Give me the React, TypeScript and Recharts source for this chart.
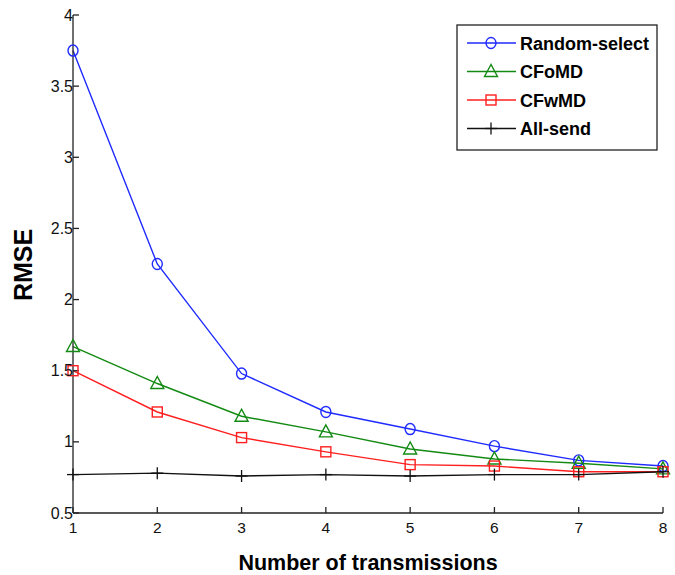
import { LineChart, Line, XAxis, YAxis } from 'recharts';

const transmissions = [1, 2, 3, 4, 5, 6, 7, 8];
const randomSelect = [3.75, 2.25, 1.48, 1.21, 1.09, 0.97, 0.87, 0.83];
const cfomd = [1.67, 1.41, 1.18, 1.07, 0.95, 0.88, 0.85, 0.81];
const cfwmd = [1.5, 1.21, 1.03, 0.93, 0.84, 0.83, 0.79, 0.79];
const allSend = [0.77, 0.78, 0.76, 0.77, 0.76, 0.77, 0.77, 0.79];
const yTicks = [0.5, 1, 1.5, 2, 2.5, 3, 3.5, 4];

const data = transmissions.map((n, i) => ({
  n,
  randomSelect: randomSelect[i],
  cfomd: cfomd[i],
  cfwmd: cfwmd[i],
  allSend: allSend[i],
}));

const FONT = '"Liberation Sans", Arial, Helvetica, sans-serif';

type MarkerProps = { cx?: number; cy?: number; stroke?: string };

const CircleMark = ({ cx = 0, cy = 0, stroke }: MarkerProps) => (
  <ellipse cx={cx} cy={cy} rx={5} ry={5.5} fill="none" stroke={stroke} strokeWidth={1.4} />
);

const TriangleMark = ({ cx = 0, cy = 0, stroke }: MarkerProps) => (
  <polygon
    points={`${cx},${cy - 7} ${cx - 6.5},${cy + 5} ${cx + 6.5},${cy + 5}`}
    fill="none"
    stroke={stroke}
    strokeWidth={1.4}
  />
);

const SquareMark = ({ cx = 0, cy = 0, stroke }: MarkerProps) => (
  <rect x={cx - 5} y={cy - 5} width={10} height={10} fill="none" stroke={stroke} strokeWidth={1.4} />
);

const PlusMark = ({ cx = 0, cy = 0, stroke }: MarkerProps) => (
  <g stroke={stroke} strokeWidth={1.3}>
    <line x1={cx - 6} y1={cy} x2={cx + 6} y2={cy} />
    <line x1={cx} y1={cy - 6} x2={cx} y2={cy + 6} />
  </g>
);

const series = [
  { key: 'randomSelect', name: 'Random-select', color: '#1f2bff', Mark: CircleMark },
  { key: 'cfomd', name: 'CFoMD', color: '#138a13', Mark: TriangleMark },
  { key: 'cfwmd', name: 'CFwMD', color: '#ff1f1f', Mark: SquareMark },
  { key: 'allSend', name: 'All-send', color: '#111111', Mark: PlusMark },
];

// legend drawn as its own svg layer over the plot's upper-right corner
const LegendBox = () => (
  <svg
    width={202}
    height={128}
    style={{ position: 'absolute', left: 456, top: 24, overflow: 'visible' }}
  >
    <rect x={1} y={1} width={200} height={125} fill="#fff" stroke="#222" strokeWidth={1.3} />
    {series.map((s, i) => {
      const y = 19 + i * 28.5;
      return (
        <g key={s.key}>
          <line x1={11} y1={y} x2={60} y2={y} stroke={s.color} strokeWidth={1.4} />
          <s.Mark cx={35} cy={y} stroke={s.color} />
          <text
            x={64}
            y={y + 6.5}
            style={{ fontSize: 18, fontWeight: 'bold', fill: '#000', fontFamily: FONT }}
          >
            {s.name}
          </text>
        </g>
      );
    })}
  </svg>
);

const XTick = ({ x, y, payload }: any) => (
  <text
    x={x}
    y={y + 24}
    textAnchor="middle"
    style={{ fontSize: 15.5, fill: '#111', fontFamily: FONT }}
  >
    {payload.value}
  </text>
);

const YTick = ({ x, y, payload }: any) => (
  <text
    x={x - 4}
    y={y + 5.5}
    textAnchor="end"
    style={{ fontSize: 16, fill: '#111', fontFamily: FONT }}
  >
    {payload.value}
  </text>
);

const axisLine = { stroke: '#222', strokeWidth: 1.3 };

export default function App() {
  return (
    <div style={{ position: 'absolute', left: 0, top: 0, width: 675, height: 575, background: '#fff' }}>
      <LineChart
        width={675}
        height={575}
        data={data}
        margin={{ top: 15, right: 12, bottom: 22, left: 13 }}
      >
        <XAxis
          dataKey="n"
          type="number"
          domain={[1, 8]}
          ticks={transmissions}
          interval={0}
          height={40}
          tickSize={-6}
          tick={<XTick />}
          axisLine={axisLine}
          tickLine={axisLine}
          label={{
            content: () => (
              <text
                x={368}
                y={570}
                textAnchor="middle"
                style={{ fontSize: 21.5, fontWeight: 'bold', fill: '#000', fontFamily: FONT }}
              >
                Number of transmissions
              </text>
            ),
          }}
        />
        <XAxis
          xAxisId="top"
          dataKey="n"
          type="number"
          orientation="top"
          domain={[1, 8]}
          ticks={transmissions}
          interval={0}
          height={0}
          tickSize={-6}
          tickFormatter={() => ''}
          axisLine={axisLine}
          tickLine={axisLine}
        />
        <YAxis
          type="number"
          domain={[0.5, 4]}
          ticks={yTicks}
          interval={0}
          width={60}
          tickSize={-6}
          tick={<YTick />}
          axisLine={axisLine}
          tickLine={axisLine}
          label={{
            content: () => (
              <text
                x={32}
                y={265}
                transform="rotate(-90 32 265)"
                textAnchor="middle"
                style={{ fontSize: 25, fontWeight: 'bold', fill: '#000', fontFamily: FONT }}
              >
                RMSE
              </text>
            ),
          }}
        />
        <YAxis
          yAxisId="right"
          orientation="right"
          type="number"
          domain={[0.5, 4]}
          ticks={yTicks}
          interval={0}
          width={0}
          tickSize={-6}
          tickFormatter={() => ''}
          axisLine={axisLine}
          tickLine={axisLine}
        />
        {series.map((s) => (
          <Line
            key={s.key}
            dataKey={s.key}
            name={s.name}
            type="linear"
            stroke={s.color}
            strokeWidth={1.4}
            dot={(p: any) => <s.Mark key={`${s.key}-${p.index}`} cx={p.cx} cy={p.cy} stroke={s.color} />}
            activeDot={false}
            isAnimationActive={false}
          />
        ))}
      </LineChart>
      <LegendBox />
    </div>
  );
}
